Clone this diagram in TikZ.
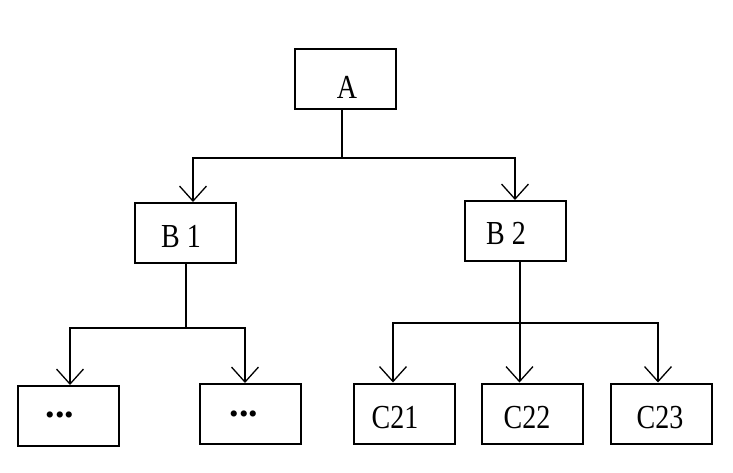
\documentclass[tikz,border=0pt]{standalone}
\usepackage{graphicx}
\usepackage{fontspec}
\setmainfont{Liberation Serif}
\usetikzlibrary{arrows.meta}
\begin{document}
\begin{tikzpicture}[x=1pt,y=-1pt,
  box/.style={draw, line width=2pt, minimum width=101pt, minimum height=60pt, inner sep=0pt},
  lbl/.style={inner sep=0pt, font=\fontsize{28}{28}\selectfont},
  dots/.style={inner sep=0pt, font=\fontsize{38}{38}\selectfont\bfseries},
  conn/.style={line width=2pt},
  tip/.style={-{Straight Barb[length=15pt,width=27pt,line width=1.3pt]}}]
\fill[white] (0,0) rectangle (733,472);
\useasboundingbox (0,0) rectangle (733,472);
% boxes
\node[box] (A) at (345,79) {};
\node[box] (B1) at (185.5,233) {};
\node[box] (B2) at (515,231) {};
\node[box] (D1) at (68,416) {};
\node[box] (D2) at (250.5,414) {};
\node[box] (C21) at (404.5,413.5) {};
\node[box] (C22) at (532,413.5) {};
\node[box] (C23) at (661,413.5) {};
% labels
\node[lbl] (tA) at (347,87) {\scalebox{1}[1.2]{A}};
\node[lbl] (tB1) at (181,236) {\scalebox{1}[1.2]{B 1}};
\node[lbl] (tB2) at (506,233) {\scalebox{1}[1.2]{B 2}};
\node[lbl] (tC21) at (395,418) {\scalebox{1}[1.2]{C21}};
\node[lbl] (tC22) at (527,418) {\scalebox{1}[1.2]{C22}};
\node[lbl] (tC23) at (660,418) {\scalebox{1}[1.2]{C23}};
\node[dots] (tD1) at (60,415) {...};
\node[dots] (tD2) at (244,414) {...};
% junctions
\coordinate (hA) at (342,158);
\coordinate (hB1) at (186,328);
\coordinate (hB2) at (519.5,323);
% connectors
\draw[conn] ([xshift=-3pt]A.south) -- (hA);
\draw[conn,tip] (hA) -| ([xshift=7.5pt]B1.north);
\draw[conn,tip] (hA) -| (B2.north);
\draw[conn] ([xshift=0.5pt]B1.south) -- (hB1);
\draw[conn,tip] (hB1) -| ([xshift=2pt]D1.north);
\draw[conn,tip] (hB1) -| ([xshift=-5.5pt]D2.north);
\draw[conn,tip] ([xshift=4.5pt]B2.south) -- ([xshift=-12.5pt]C22.north);
\draw[conn,tip] (hB2) -| ([xshift=-11.5pt]C21.north);
\draw[conn,tip] (hB2) -| ([xshift=-3pt]C23.north);
\end{tikzpicture}
\end{document}
